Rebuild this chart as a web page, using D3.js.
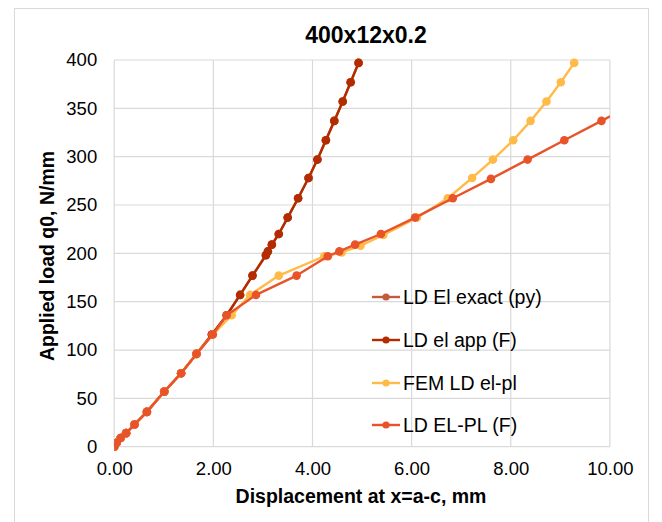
<!DOCTYPE html>
<html><head><meta charset="utf-8">
<script src="https://cdn.jsdelivr.net/npm/d3@7"></script>
<style>
body{margin:0;background:#fff;}
text{font-family:"Liberation Sans",Arial,sans-serif;fill:#000;}
</style></head>
<body><svg id="c" width="662" height="522"></svg>
<script>
// ---- data ----
const seriesNames = ["LD El exact (py)", "LD el app (F)", "FEM LD el-pl", "LD EL-PL (F)"];
const seriesColors = ["#C55A3C", "#B32C00", "#FFBA47", "#E9532A"];

const exactX = [0,0.05,0.13,0.24,0.41,0.66,1.01,1.35,1.66,1.97,2.27,2.54,2.79,3.06,3.10,3.18,3.32,3.50,3.71,3.92,4.10,4.27,4.44,4.61,4.77,4.93];
const exactQ = [0,4,9,14,23,36,57,76,96,116,136,157,177,198,202,209,220,237,257,278,297,317,337,357,377,397];

const appX = [0,0.05,0.13,0.24,0.41,0.66,1.01,1.35,1.66,1.97,2.27,2.54,2.79,3.06,3.10,3.18,3.32,3.50,3.71,3.92,4.10,4.27,4.44,4.61,4.77,4.93];
const appQ = [0,4,9,14,23,36,57,76,96,116,136,157,177,198,202,209,220,237,257,278,297,317,337,357,377,397];

const femX = [0,0.05,0.13,0.24,0.41,0.66,1.01,1.35,1.66,1.99,2.37,2.74,3.32,4.24,4.59,4.97,5.43,6.11,6.73,7.22,7.64,8.05,8.40,8.72,9.01,9.28];
const femQ = [0,4,9,14,23,36,57,76,96,116,136,157,177,197,201,208,219,237,257,278,297,317,337,357,377,397];

const elplX = [0,0.05,0.13,0.24,0.41,0.66,1.01,1.35,1.66,1.99,2.27,2.86,3.68,4.31,4.54,4.86,5.38,6.07,6.83,7.60,8.34,9.08,9.83,10.58];
const elplQ = [0,4,9,14,23,36,57,76,96,116,136,157,177,197,202,209,220,237,257,277,297,317,337,357];

const xTicks = [0,2,4,6,8,10];
const yTicks = [0,50,100,150,200,250,300,350,400];
const title = "400x12x0.2";
const xTitle = "Displacement at x=a-c, mm";
const yTitle = "Applied load q0, N/mm";

// ---- drawing ----
const svg = d3.select("#c");
const L = 114.2, R = 609.9, T = 60, B = 446.7;
const x = d3.scaleLinear().domain([0,10]).range([L,R]);
const y = d3.scaleLinear().domain([0,400]).range([B,T]);

svg.append("rect").attr("x",14.5).attr("y",8.5).attr("width",634).attr("height",530)
  .attr("fill","#fff").attr("stroke","#D9D9D9").attr("stroke-width",1);

svg.append("defs").append("clipPath").attr("id","pc")
  .append("rect").attr("x",L).attr("y",T-10).attr("width",R-L).attr("height",B-T+20);

// gridlines
const grid = svg.append("g");
grid.selectAll(".gx").data(xTicks).join("line")
  .attr("x1",d=>x(d)).attr("x2",d=>x(d)).attr("y1",T).attr("y2",B)
  .attr("stroke","#D9D9D9").attr("stroke-width",1.2);
grid.selectAll(".gy").data(yTicks).join("line")
  .attr("x1",L).attr("x2",R).attr("y1",d=>y(d)).attr("y2",d=>y(d))
  .attr("stroke","#D9D9D9").attr("stroke-width",1.2);

// axes (labels only)
const xAxis = svg.append("g").attr("transform",`translate(0,${B})`)
  .call(d3.axisBottom(x).tickValues(xTicks).tickFormat(d3.format(".2f")).tickSize(0).tickPadding(15));
xAxis.select(".domain").remove();
xAxis.selectAll("text").attr("font-size",18.5).attr("font-family","Liberation Sans, Arial, sans-serif").attr("fill","#000");

const yAxis = svg.append("g").attr("transform",`translate(${L},0)`)
  .call(d3.axisLeft(y).tickValues(yTicks).tickFormat(d3.format("d")).tickSize(0).tickPadding(17));
yAxis.select(".domain").remove();
yAxis.selectAll("text").attr("font-size",18.5).attr("font-family","Liberation Sans, Arial, sans-serif").attr("fill","#000");

// titles
svg.append("text").attr("x",366).attr("y",43).attr("text-anchor","middle")
  .attr("font-size",23).attr("font-weight","bold").text(title);
svg.append("text").attr("x",361).attr("y",503).attr("text-anchor","middle")
  .attr("font-size",19.5).attr("font-weight","bold").text(xTitle);
svg.append("text").attr("transform","translate(54,256) rotate(-90)").attr("text-anchor","middle")
  .attr("font-size",19.5).attr("font-weight","bold").text(yTitle);

// series
const series = [
  {xs:exactX, qs:exactQ},
  {xs:appX, qs:appQ},
  {xs:femX, qs:femQ},
  {xs:elplX, qs:elplQ}
];
const line = d3.line().x(d=>x(d[0])).y(d=>y(d[1]));
const plot = svg.append("g").attr("clip-path","url(#pc)");
series.forEach((s,i)=>{
  const pts = s.xs.map((v,j)=>[v,s.qs[j]]);
  const g = plot.append("g");
  g.append("path").datum(pts).attr("d",line).attr("fill","none")
    .attr("stroke",seriesColors[i]).attr("stroke-width",2.4).attr("stroke-linejoin","round");
  g.selectAll("circle").data(pts).join("circle")
    .attr("cx",d=>x(d[0])).attr("cy",d=>y(d[1])).attr("r",4.3).attr("fill",seriesColors[i]);
});

// legend
const legY = [297, 340, 383, 425];
const leg = svg.append("g");
seriesNames.forEach((n,i)=>{
  leg.append("line").attr("x1",372).attr("x2",400).attr("y1",legY[i]).attr("y2",legY[i])
    .attr("stroke",seriesColors[i]).attr("stroke-width",2.4);
  leg.append("circle").attr("cx",386).attr("cy",legY[i]).attr("r",3.6).attr("fill",seriesColors[i]);
  leg.append("text").attr("x",403).attr("y",legY[i]).attr("dy","0.36em")
    .attr("font-size",19.5).text(n);
});
</script></body></html>
